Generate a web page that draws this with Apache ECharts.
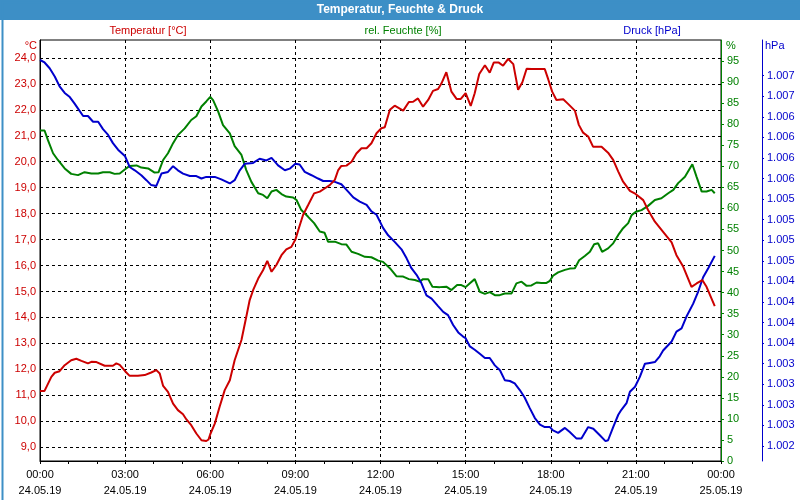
<!DOCTYPE html>
<html>
<head>
<meta charset="utf-8">
<script src="https://cdn.jsdelivr.net/npm/echarts@6/dist/echarts.min.js"></script>
<style>html,body{margin:0;padding:0;background:#fff}#c{width:800px;height:500px}</style>
</head>
<body>
<div id="c"></div>
<script>
// ---- data (hours since 24.05.19 00:00, value) ----
var tempData = [
[0.00,11.17],[0.16,11.17],[0.40,11.71],[0.52,11.87],[0.69,11.93],[0.87,12.16],[1.10,12.35],[1.28,12.41],[1.46,12.33],[1.69,12.23],[1.81,12.29],[1.99,12.28],[2.28,12.14],[2.57,12.14],[2.69,12.23],[2.81,12.17],[3.00,11.93],[3.16,11.75],[3.45,11.75],[3.69,11.78],[3.92,11.88],[4.10,11.97],[4.22,11.84],[4.34,11.36],[4.51,11.13],[4.69,10.68],[4.86,10.43],[5.04,10.27],[5.16,10.07],[5.33,9.85],[5.51,9.53],[5.69,9.27],[5.86,9.24],[5.94,9.30],[6.00,9.50],
[6.16,9.91],[6.33,10.56],[6.51,11.20],[6.69,11.58],[6.86,12.35],[7.10,13.13],[7.27,14.03],[7.39,14.67],[7.51,15.05],[7.69,15.50],[7.86,15.82],[8.01,16.18],[8.16,15.76],[8.33,16.02],[8.51,16.40],[8.68,16.62],[8.86,16.72],[9.00,17.00],[9.10,17.36],[9.27,17.95],[9.45,18.33],[9.66,18.78],[9.86,18.85],[10.03,18.97],[10.21,19.10],[10.39,19.30],[10.51,19.68],[10.62,19.84],[10.80,19.85],[10.98,20.00],[11.15,20.32],[11.33,20.52],[11.51,20.52],[11.68,20.71],[11.86,21.10],[12.03,21.29],
[12.15,21.33],[12.33,22.00],[12.50,22.16],[12.80,21.97],[13.00,22.30],[13.15,22.31],[13.32,22.44],[13.50,22.12],[13.68,22.38],[13.85,22.73],[14.03,22.80],[14.15,23.02],[14.32,23.45],[14.50,22.70],[14.68,22.42],[14.83,22.42],[15.00,22.64],[15.18,22.15],[15.32,22.64],[15.48,23.38],[15.68,23.72],[15.85,23.43],[15.99,23.82],[16.17,23.82],[16.32,23.70],[16.50,23.96],[16.68,23.76],[16.85,22.77],[17.00,23.06],[17.15,23.58],[17.32,23.57],[17.56,23.57],[17.79,23.57],[17.91,23.18],[18.05,22.70],
[18.20,22.38],[18.44,22.41],[18.61,22.23],[18.85,21.97],[18.99,21.42],[19.14,21.12],[19.32,20.97],[19.49,20.58],[19.79,20.58],[20.02,20.35],[20.20,20.07],[20.38,19.62],[20.55,19.23],[20.79,18.88],[20.99,18.76],[21.26,18.52],[21.43,18.14],[21.67,17.69],[21.96,17.30],[22.26,16.89],[22.43,16.40],[22.67,15.95],[22.96,15.18],[23.14,15.31],[23.34,15.44],[23.49,15.18],[23.78,14.44]
];
var humData = [
[0.00,78.5],[0.16,78.5],[0.28,76.2],[0.46,73.1],[0.63,71.5],[0.87,69.5],[1.10,68.2],[1.34,67.9],[1.57,68.6],[1.81,68.3],[2.05,68.3],[2.22,68.6],[2.46,68.6],[2.63,68.2],[2.81,68.3],[3.00,69.3],[3.16,70.1],[3.40,70.2],[3.57,69.7],[3.81,69.5],[4.04,68.5],[4.18,68.6],[4.34,71.5],[4.51,73.1],[4.69,75.5],[4.86,77.4],[5.10,79.0],[5.33,81.0],[5.51,81.9],[5.69,84.2],[5.86,85.4],[6.00,86.5],
[6.10,85.7],[6.28,83.0],[6.45,79.8],[6.69,77.8],[6.86,74.8],[7.10,72.7],[7.27,69.1],[7.45,66.3],[7.69,63.6],[7.86,63.2],[8.01,62.4],[8.16,64.0],[8.33,64.4],[8.51,63.4],[8.68,62.8],[8.92,62.6],[9.04,62.0],[9.21,59.6],[9.45,58.0],[9.66,56.5],[9.86,54.5],[10.03,54.2],[10.15,52.1],[10.39,52.1],[10.62,51.5],[10.80,51.4],[10.98,49.7],[11.21,49.2],[11.45,48.5],[11.68,48.4],[11.92,47.6],[12.09,47.3],
[12.33,45.8],[12.56,43.9],[12.80,43.8],[13.00,43.2],[13.21,43.0],[13.38,42.6],[13.50,43.2],[13.68,43.2],[13.83,41.4],[14.09,41.3],[14.32,41.4],[14.50,40.6],[14.70,41.8],[14.85,41.8],[15.00,41.3],[15.15,42.2],[15.32,43.2],[15.50,40.2],[15.68,39.7],[15.85,40.1],[16.03,39.4],[16.20,39.4],[16.38,39.8],[16.62,39.8],[16.79,42.2],[16.97,42.6],[17.15,41.6],[17.32,41.7],[17.50,42.4],[17.67,42.3],[17.85,42.3],[17.97,42.8],[18.08,44.0],
[18.26,44.8],[18.50,45.4],[18.67,45.7],[18.85,45.8],[19.00,47.7],[19.20,48.7],[19.38,49.7],[19.53,51.5],[19.67,51.7],[19.81,49.7],[20.02,50.5],[20.20,51.7],[20.38,53.7],[20.55,55.3],[20.73,56.5],[20.85,58.4],[21.00,59.2],[21.20,59.6],[21.43,60.6],[21.67,62.0],[21.90,62.4],[22.14,63.6],[22.32,64.4],[22.49,66.0],[22.73,67.5],[22.99,70.5],[23.14,67.5],[23.32,64.0],[23.49,64.0],[23.67,64.4],[23.78,63.6]
];
var pressData = [
[0.00,1006.94],[0.16,1006.91],[0.34,1006.84],[0.52,1006.74],[0.69,1006.62],[0.87,1006.54],[1.05,1006.49],[1.22,1006.41],[1.34,1006.35],[1.52,1006.26],[1.69,1006.26],[1.87,1006.19],[2.05,1006.19],[2.22,1006.10],[2.40,1006.03],[2.57,1005.93],[2.75,1005.85],[3.00,1005.77],[3.16,1005.64],[3.34,1005.60],[3.57,1005.54],[3.75,1005.48],[3.92,1005.42],[4.10,1005.41],[4.28,1005.56],[4.51,1005.58],[4.69,1005.65],[4.86,1005.60],[5.04,1005.56],[5.28,1005.53],[5.51,1005.53],[5.69,1005.50],[5.86,1005.52],
[6.16,1005.52],[6.39,1005.49],[6.69,1005.44],[6.86,1005.48],[7.04,1005.60],[7.22,1005.68],[7.51,1005.69],[7.74,1005.74],[7.98,1005.72],[8.16,1005.75],[8.39,1005.66],[8.63,1005.60],[8.80,1005.62],[9.00,1005.68],[9.15,1005.67],[9.33,1005.58],[9.57,1005.54],[9.80,1005.50],[9.98,1005.47],[10.21,1005.47],[10.39,1005.46],[10.62,1005.43],[10.86,1005.34],[11.04,1005.27],[11.27,1005.22],[11.51,1005.18],[11.68,1005.10],[11.86,1005.06],[12.09,1004.90],
[12.27,1004.81],[12.50,1004.73],[12.74,1004.64],[12.92,1004.53],[13.09,1004.41],[13.27,1004.33],[13.44,1004.23],[13.62,1004.08],[13.80,1004.04],[14.03,1003.95],[14.21,1003.88],[14.38,1003.84],[14.56,1003.72],[14.74,1003.63],[14.91,1003.58],[15.00,1003.56],[15.15,1003.46],[15.32,1003.42],[15.50,1003.37],[15.68,1003.32],[15.85,1003.32],[16.03,1003.23],[16.21,1003.17],[16.38,1003.05],[16.56,1003.04],[16.73,1003.01],[16.91,1002.93],[17.08,1002.84],[17.26,1002.71],[17.44,1002.59],[17.62,1002.51],[17.79,1002.48],[17.97,1002.48],
[18.08,1002.44],[18.26,1002.41],[18.50,1002.47],[18.67,1002.42],[18.91,1002.34],[19.08,1002.34],[19.32,1002.48],[19.50,1002.46],[19.73,1002.38],[19.93,1002.31],[20.02,1002.32],[20.20,1002.48],[20.38,1002.63],[20.49,1002.69],[20.67,1002.77],[20.79,1002.91],[20.97,1002.97],[21.14,1003.09],[21.32,1003.25],[21.49,1003.26],[21.67,1003.27],[21.84,1003.34],[21.96,1003.41],[22.26,1003.52],[22.43,1003.64],[22.61,1003.68],[22.78,1003.82],[23.02,1003.98],[23.20,1004.13],[23.37,1004.30],[23.55,1004.41],[23.78,1004.56]
];
var tempTicks = [9,10,11,12,13,14,15,16,17,18,19,20,21,22,23,24];
var pressTicks = [1002.25,1002.5,1002.75,1003,1003.25,1003.5,1003.75,1004,1004.25,1004.5,1004.75,1005,1005.25,1005.5,1005.75,1006,1006.25,1006.5,1006.75];
var hourTicks = [0,3,6,9,12,15,18,21,24];
var dateLabels = ['24.05.19','24.05.19','24.05.19','24.05.19','24.05.19','24.05.19','24.05.19','24.05.19','25.05.19'];
var titleText = 'Temperatur, Feuchte & Druck';
var seriesNames = ['Temperatur [°C]','rel. Feuchte [%]','Druck [hPa]'];
var unitNames = ['°C','%','hPa'];

var RED = '#cc0000', GREEN = '#008000', BLUE = '#0000cc', FRAME = '#3d8fc6';
var FONT = 'Liberation Sans';

var chart = echarts.init(document.getElementById('c'), null, {renderer:'canvas'});
function pad(n){return (n<10?'0':'')+n;}
var option = {
  animation: false,
  backgroundColor: '#ffffff',
  grid: {left: 40, right: 79, top: 40, bottom: 39, show: true, borderColor: '#000', borderWidth: 1, backgroundColor: 'transparent'},
  xAxis: {
    type: 'value', min: 0, max: 24, interval: 3,
    axisLine: {show: true, onZero: false, lineStyle: {color: '#000', width: 1}},
    axisTick: {show: true, length: 3, lineStyle: {color: '#000'}},
    minorTick: {show: true, splitNumber: 3, length: 3, lineStyle: {color: '#000'}},
    splitLine: {show: true, lineStyle: {color: '#000', type: [3,3], width: 1}},
    axisLabel: {
      color: '#000', fontFamily: FONT, fontSize: 11, lineHeight: 16, margin: 6,
      showMinLabel: true, showMaxLabel: true, hideOverlap: false,
      formatter: function(v){ var i = hourTicks.indexOf(v); var h = v % 24; return pad(h)+':00\n'+(i>=0?dateLabels[i]:''); }
    }
  },
  yAxis: [
    {
      type: 'value', position: 'left', min: 8.47, max: 24.69,
      axisLine: {show: true, lineStyle: {color: '#000', width: 1}},
      axisTick: {show: false, customValues: tempTicks},
      splitLine: {show: true, lineStyle: {color: '#000', type: [3,3], width: 1}},
      axisLabel: {customValues: tempTicks, color: RED, fontFamily: FONT, fontSize: 11, margin: 4,
        formatter: function(v){ return v.toFixed(1).replace('.', ','); }}
    },
    {
      type: 'value', position: 'right', offset: 0, min: 0, max: 100, interval: 5,
      axisLine: {show: true, lineStyle: {color: GREEN, width: 1}},
      axisTick: {show: true, length: 3, lineStyle: {color: GREEN}},
      splitLine: {show: false},
      axisLabel: {color: GREEN, fontFamily: FONT, fontSize: 11, margin: 6, showMaxLabel: false,
        formatter: function(v){ return v >= 100 ? '' : String(v); }}
    },
    {
      type: 'value', position: 'right', offset: 41, min: 1002.068, max: 1007.183,
      axisLine: {show: true, lineStyle: {color: BLUE, width: 1}},
      axisTick: {show: true, length: 2, customValues: pressTicks, lineStyle: {color: BLUE}},
      splitLine: {show: false},
      axisLabel: {customValues: pressTicks, color: BLUE, fontFamily: FONT, fontSize: 11, margin: 5,
        formatter: function(v){ var s = String(Math.round(v)); return s.charAt(0)+'.'+s.slice(1); }}
    }
  ],
  series: [
    {type: 'line', name: seriesNames[1], yAxisIndex: 1, data: humData, showSymbol: false, symbol: 'none', lineStyle: {color: GREEN, width: 2}, itemStyle: {color: GREEN}},
    {type: 'line', name: seriesNames[2], yAxisIndex: 2, data: pressData, showSymbol: false, symbol: 'none', lineStyle: {color: BLUE, width: 2}, itemStyle: {color: BLUE}},
    {type: 'line', name: seriesNames[0], yAxisIndex: 0, data: tempData, showSymbol: false, symbol: 'none', lineStyle: {color: RED, width: 2}, itemStyle: {color: RED}}
  ],
  graphic: [
    {type: 'rect', left: 0, top: 0, shape: {width: 800, height: 20}, style: {fill: FRAME}, silent: true},
    {type: 'rect', left: 0, top: 0, shape: {x: 0.5, y: 0.5, width: 799, height: 499}, style: {fill: 'none', stroke: FRAME, lineWidth: 2}, silent: true},
    {type: 'text', x: 400, y: 10, style: {text: titleText, fill: '#fff', font: 'bold 12px "Liberation Sans"', align: 'center', verticalAlign: 'middle'}},
    {type: 'text', x: 148, y: 31, style: {text: seriesNames[0], fill: RED, font: '11px "Liberation Sans"', align: 'center', verticalAlign: 'middle'}},
    {type: 'text', x: 403, y: 31, style: {text: seriesNames[1], fill: GREEN, font: '11px "Liberation Sans"', align: 'center', verticalAlign: 'middle'}},
    {type: 'text', x: 652, y: 31, style: {text: seriesNames[2], fill: BLUE, font: '11px "Liberation Sans"', align: 'center', verticalAlign: 'middle'}},
    {type: 'text', x: 37, y: 46, style: {text: unitNames[0], fill: RED, font: '11px "Liberation Sans"', align: 'right', verticalAlign: 'middle'}},
    {type: 'text', x: 726, y: 46, style: {text: unitNames[1], fill: GREEN, font: '11px "Liberation Sans"', align: 'left', verticalAlign: 'middle'}},
    {type: 'text', x: 765, y: 46, style: {text: unitNames[2], fill: BLUE, font: '11px "Liberation Sans"', align: 'left', verticalAlign: 'middle'}}
  ]
};
chart.setOption(option);
</script>
</body>
</html>
